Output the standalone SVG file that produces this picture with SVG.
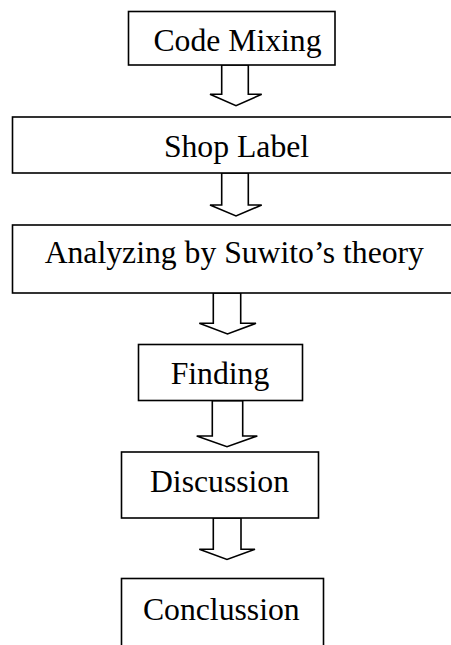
<svg xmlns="http://www.w3.org/2000/svg" width="451" height="645" viewBox="0 0 451 645">
<style>
.box{fill:#fff;stroke:#000;stroke-width:1.6}
.arr{fill:#fff;stroke:#000;stroke-width:1.6;stroke-linejoin:miter}
.lbl{font-family:"Liberation Serif","Times New Roman",serif;font-size:31.7px;fill:#000;text-anchor:middle}
</style>
<rect width="451" height="645" fill="#fff"/>
<g id="connectors">
<polygon class="arr" points="221.7,65 248.3,65 248.3,94.3 261.7,94.3 236,105.7 210,94.3 221.7,94.3"/>
<polygon class="arr" points="221.7,173 248.3,173 248.3,205 261.7,205 236,216 210,205 221.7,205"/>
<polygon class="arr" points="213.3,293 240.7,293 240.7,323.3 256,323.3 227.5,334 199.3,323.3 213.3,323.3"/>
<polygon class="arr" points="212.3,400.7 242.7,400.7 242.7,436 257.3,436 227,446.7 196.7,436 212.3,436"/>
<polygon class="arr" points="213.3,518 241,518 241,549.3 255,549.3 227,559.5 199.3,549.3 213.3,549.3"/>
</g>
<g id="node-code-mixing">
<rect class="box" x="128.5" y="11.5" width="206.5" height="53.5"/>
<text class="lbl" x="237.5" y="50.5">Code Mixing</text>
</g>
<g id="node-shop-label">
<rect class="box" x="12.5" y="117" width="445" height="56"/>
<text class="lbl" x="236.5" y="156.7">Shop Label</text>
</g>
<g id="node-analyzing">
<rect class="box" x="12.5" y="225" width="445" height="68"/>
<text class="lbl" x="234.3" y="263.3">Analyzing by Suwito’s theory</text>
</g>
<g id="node-finding">
<rect class="box" x="138.5" y="344.5" width="164" height="56"/>
<text class="lbl" x="220" y="384">Finding</text>
</g>
<g id="node-discussion">
<rect class="box" x="121.5" y="452" width="197" height="66"/>
<text class="lbl" x="219.5" y="492.3">Discussion</text>
</g>
<g id="node-conclussion">
<rect class="box" x="121.5" y="578.5" width="202" height="80"/>
<text class="lbl" x="221.3" y="620">Conclussion</text>
</g>
</svg>
